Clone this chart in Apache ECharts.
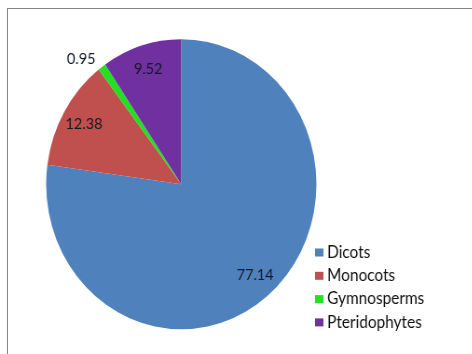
<!DOCTYPE html>
<html>
<head>
<meta charset="utf-8">
<script src="https://cdn.jsdelivr.net/npm/echarts@6/dist/echarts.min.js"></script>
<style>
  html, body { margin: 0; padding: 0; width: 472px; height: 354px; background: #fff; overflow: hidden; }
  /* the plot is drawn a little narrower than tall */
  #chart { position: absolute; left: 0; top: 0; width: 472px; height: 354px;
           transform: scale(0.932, 1); transform-origin: 0 0; }
  #frame { position: absolute; left: 7px; top: 8px; right: -4px; bottom: -4px;
           border-left: 1.5px solid #858585; border-top: 1.5px solid #858585;
           pointer-events: none; }
</style>
</head>
<body>
<div id="chart"></div>
<div id="frame"></div>
<script>
// Share of plant groups (%)
const categories = ['Dicots', 'Monocots', 'Gymnosperms', 'Pteridophytes'];
const shares = [77.14, 12.38, 0.95, 9.52];
const colors = ['#4F81BD', '#C0504D', '#22E022', '#7030A0'];
const outsideLabels = ['Gymnosperms'];

const FONT = 'Lato, "Open Sans", sans-serif';
const center = [194.5, 184.3];
const R = 145;

const chart = echarts.init(document.getElementById('chart'), null, { renderer: 'canvas' });

const sliceData = categories.map((name, i) => ({
  name,
  value: shares[i],
  itemStyle: { color: colors[i] }
}));

// value labels sit on a transparent ring so they land in the outer part of each slice
const labelData = categories.map((name, i) => {
  const outside = outsideLabels.includes(name);
  return {
    name,
    value: shares[i],
    itemStyle: { color: 'rgba(0,0,0,0)' },
    label: outside
      ? { position: 'outside', distanceToLabelLine: 0 }
      : { position: 'inside' },
    labelLine: outside ? { show: false, length: 10, length2: 1 } : { show: false }
  };
});

chart.setOption({
  animation: false,
  backgroundColor: 'transparent',
  color: colors,
  legend: {
    orient: 'vertical',
    left: 333,
    top: 239,
    icon: 'rect',
    itemWidth: 9,
    itemHeight: 8,
    itemGap: 6.3,
    data: categories,
    textStyle: {
      fontFamily: FONT,
      fontSize: 16.5,
      color: '#111',
      lineHeight: 17,
      padding: [0, 0, 0, -1]
    }
  },
  series: [
    {
      type: 'pie',
      center,
      radius: R,
      startAngle: 90,
      clockwise: true,
      silent: true,
      label: { show: false },
      labelLine: { show: false },
      itemStyle: { borderWidth: 0 },
      data: sliceData
    },
    {
      type: 'pie',
      center,
      radius: [Math.round(R * 0.62), R],
      startAngle: 90,
      clockwise: true,
      silent: true,
      legendHoverLink: false,
      label: {
        show: true,
        formatter: (p) => p.value.toFixed(2),
        fontFamily: FONT,
        fontSize: 15.5,
        color: '#141824'
      },
      itemStyle: { borderWidth: 0 },
      data: labelData
    }
  ]
});
</script>
</body>
</html>
